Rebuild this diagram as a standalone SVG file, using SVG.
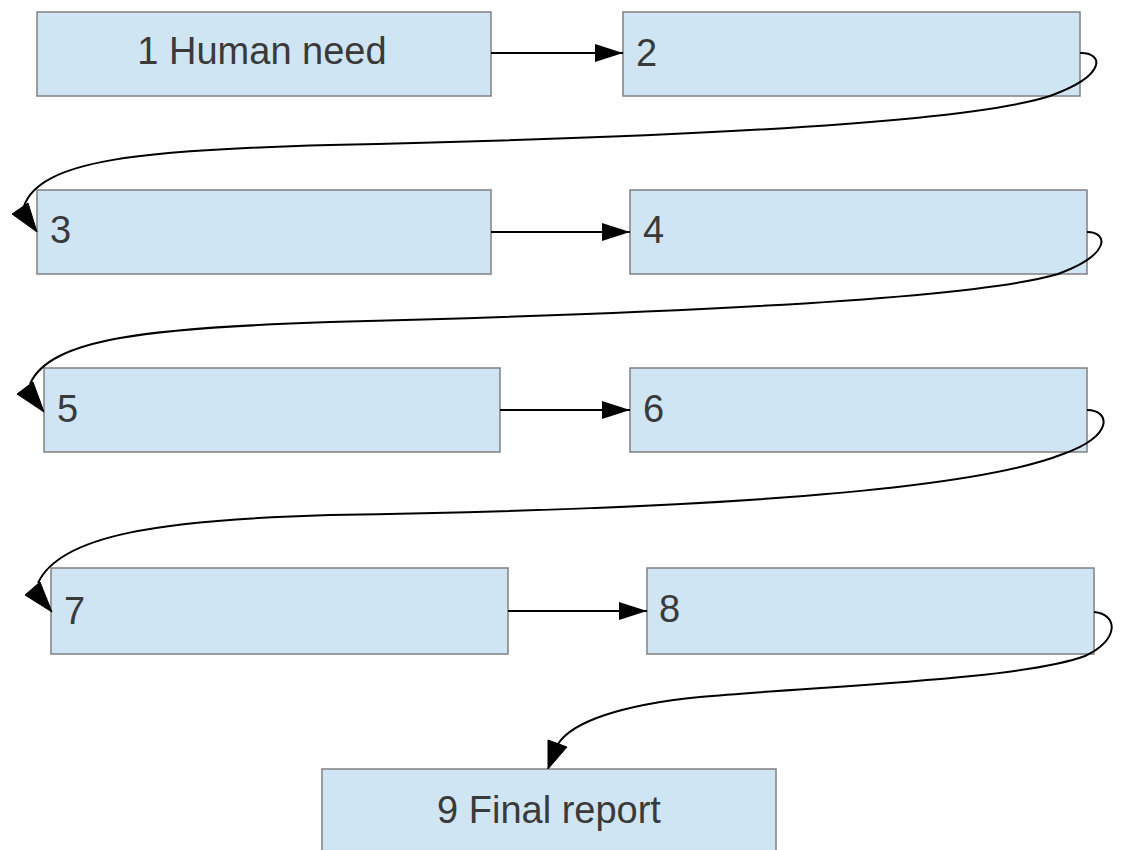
<svg xmlns="http://www.w3.org/2000/svg" width="1128" height="850" viewBox="0 0 1128 850">
<style>
.box{fill:#d0e5f4;stroke:#808080;stroke-width:1.5}
.lbl{font-family:"Liberation Sans",Arial,sans-serif;font-size:38px;fill:#3a3a3a}
.edge{fill:none;stroke:#000;stroke-width:2}
.head{fill:#000;stroke:#000;stroke-width:1}
</style>
<defs>
<marker id="arr" markerWidth="30" markerHeight="20" refX="28" refY="9" orient="auto" markerUnits="userSpaceOnUse">
<path d="M0,0 L28,9 L0,18 z" fill="#000"/>
</marker>
</defs>
<rect width="1128" height="850" fill="#fff"/>
<g id="n1"><rect class="box" x="37" y="12" width="454" height="84"/><text class="lbl" x="262" y="64" text-anchor="middle">1 Human need</text></g>
<g id="n2"><rect class="box" x="623" y="12" width="457" height="84"/><text class="lbl" x="636" y="66">2</text></g>
<g id="n3"><rect class="box" x="37" y="190" width="454" height="84"/><text class="lbl" x="50" y="243">3</text></g>
<g id="n4"><rect class="box" x="630" y="190" width="457" height="84"/><text class="lbl" x="643" y="243">4</text></g>
<g id="n5"><rect class="box" x="44" y="368" width="456" height="84"/><text class="lbl" x="57" y="422">5</text></g>
<g id="n6"><rect class="box" x="630" y="368" width="457" height="84"/><text class="lbl" x="643" y="422">6</text></g>
<g id="n7"><rect class="box" x="51" y="568" width="457" height="86"/><text class="lbl" x="64" y="624">7</text></g>
<g id="n8"><rect class="box" x="647" y="568" width="447" height="86"/><text class="lbl" x="659" y="622">8</text></g>
<g id="n9"><rect class="box" x="322" y="769" width="454" height="86"/><text class="lbl" x="549" y="823" text-anchor="middle">9 Final report</text></g>
<g id="connectors">
<path class="edge" d="M491,53 L623,53" marker-end="url(#arr)"/>
<path class="edge" d="M491,232 L630,232" marker-end="url(#arr)"/>
<path class="edge" d="M500,410 L630,410" marker-end="url(#arr)"/>
<path class="edge" d="M508,611 L647,611" marker-end="url(#arr)"/>
<path class="edge" d="M1080,53 C1102,52 1110,74 1050,96 C960,125 650,138 330,145 C140,150 40,160 24,206"/>
<polygon class="head" points="37,232 12,214 28,203"/>
<path class="edge" d="M1087,232 C1108,232 1112,254 1058,274 C970,300 650,314 330,322 C150,328 50,338 30,384"/>
<polygon class="head" points="44,412 17,394 33,382"/>
<path class="edge" d="M1087,410 C1110,410 1115,436 1063,454 C960,495 650,510 330,515 C160,520 60,535 38,583"/>
<polygon class="head" points="52,612 25,595 40,582"/>
<path class="edge" d="M1094,612 C1118,614 1120,640 1085,656 C1020,680 820,686 700,697 C620,705 572,722 558,744"/>
<polygon class="head" points="548,769 548,740 567,747"/>
</g>
</svg>
